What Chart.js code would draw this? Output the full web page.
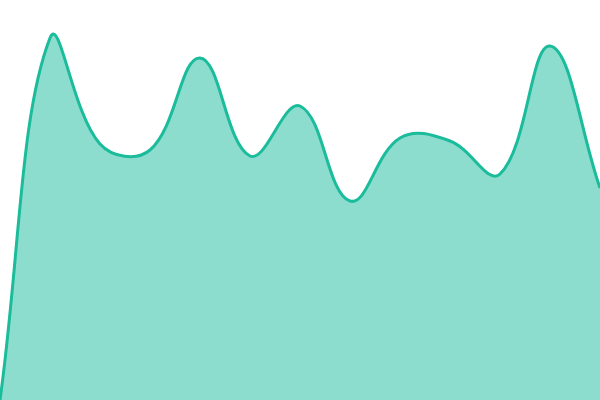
<!DOCTYPE html>
<html>
<head>
<meta charset="utf-8">
<script src="https://cdn.jsdelivr.net/npm/chart.js@4"></script>
<style>html,body{margin:0;padding:0;background:#fff;}#wrap{width:600px;height:400px;}</style>
</head>
<body>
<div id="wrap"><canvas id="c" width="600" height="400"></canvas></div>
<script>
const labels = ['1','2','3','4','5','6','7','8','9','10','11','12','13'];
const values = [0, 90.5, 64, 62.5, 85.5, 61, 73.5, 49.75, 65.5, 64.75, 56.5, 88.5, 53];
const yMin = 0;
const yMax = 100;

new Chart(document.getElementById('c'), {
  type: 'line',
  data: {
    labels: labels,
    datasets: [{
      data: values,
      borderColor: '#1abc9c',
      backgroundColor: 'rgba(26,188,156,0.5)',
      borderWidth: 3,
      fill: 'origin',
      tension: 0.4,
      pointRadius: 0,
      pointHoverRadius: 0
    }]
  },
  options: {
    responsive: false,
    animation: false,
    layout: { padding: 0 },
    plugins: { legend: { display: false }, tooltip: { enabled: false } },
    scales: {
      x: { display: false, offset: false },
      y: { display: false, min: yMin, max: yMax }
    }
  }
});
</script>
</body>
</html>
